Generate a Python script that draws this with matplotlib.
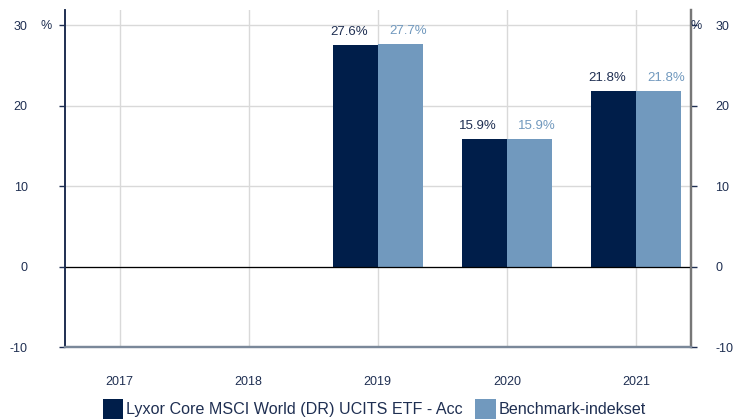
import matplotlib
matplotlib.use("Agg")
import matplotlib.pyplot as plt
from matplotlib.patches import Patch
import numpy as np

plt.rcParams['font.family'] = ['Liberation Sans', 'DejaVu Sans']

years = ["2017", "2018", "2019", "2020", "2021"]
fund = [None, None, 27.6, 15.9, 21.8]
bench = [None, None, 27.7, 15.9, 21.8]
fund_name = "Lyxor Core MSCI World (DR) UCITS ETF - Acc"
bench_name = "Benchmark-indekset"
yticks = [-10, 0, 10, 20, 30]

c_dark = "#001e4a"
c_light = "#7199be"
c_text = "#1f2f52"

fig = plt.figure(figsize=(7.34, 4.19), dpi=100)
ax = fig.add_axes([64.5/734, 1-347/419, (691-64.5)/734, (347-10)/419])

x = np.arange(len(years))
w = 0.35
for i, (f, b) in enumerate(zip(fund, bench)):
    if f is not None:
        ax.bar(x[i] - w/2, f, w, color=c_dark, zorder=3)
        ax.annotate(f"{f:.1f}%", (x[i] - w/2, f), xytext=(-4.5, 5), textcoords='offset points',
                    ha='center', va='bottom', color=c_text, fontsize=9.5, zorder=4)
    if b is not None:
        ax.bar(x[i] + w/2, b, w, color=c_light, zorder=3)
        ax.annotate(f"{b:.1f}%", (x[i] + w/2, b), xytext=(5.5, 5), textcoords='offset points',
                    ha='center', va='bottom', color=c_light, fontsize=9.5, zorder=4)

ylim = (-10, 31.9)
ax.set_xlim(-55/129, 4 + 55/129)
ax.set_ylim(*ylim)
ax.set_yticks(yticks)
ax.set_yticklabels([str(v) for v in yticks], color=c_text, fontsize=9)
ax.set_xticks(x)
ax.set_xticklabels(years, color=c_text, fontsize=9)
ax.tick_params(axis='x', length=0, pad=21)
ax.tick_params(axis='y', length=4.5, width=1, color=c_text, pad=22)
ax.grid(True, color="#d9d9d9", linewidth=1, zorder=0)
ax.axhline(0, color="black", linewidth=0.9, zorder=4)

ax2 = ax.twinx()
ax2.set_ylim(*ylim)
ax2.set_yticks(yticks)
ax2.set_yticklabels([str(v) for v in yticks], color=c_text, fontsize=9)
ax2.tick_params(axis='y', length=4.5, width=1, color=c_text, pad=13)

for a in (ax, ax2):
    a.spines['top'].set_visible(False)
    a.spines['left'].set_color(c_text)
    a.spines['left'].set_linewidth(1.2)
    a.spines['right'].set_color("#777777")
    a.spines['right'].set_linewidth(1.6)
    a.spines['bottom'].set_color("#7a8899")
    a.spines['bottom'].set_linewidth(1.6)

fig.text(46/734, 1-26/419, "%", ha='center', va='center', color=c_text, fontsize=9)
fig.text(696/734, 1-26/419, "%", ha='center', va='center', color=c_text, fontsize=9)

handles = [Patch(facecolor=c_dark), Patch(facecolor=c_light)]
fig.legend(handles, [fund_name, bench_name], loc='center', bbox_to_anchor=(0.51, 1-409/419),
           ncol=2, frameon=False, fontsize=11.6, handlelength=1.25, handleheight=1.5,
           handletextpad=0.2, columnspacing=0.8, labelcolor=c_text, borderpad=0)

fig.savefig("out.png", dpi=100)
